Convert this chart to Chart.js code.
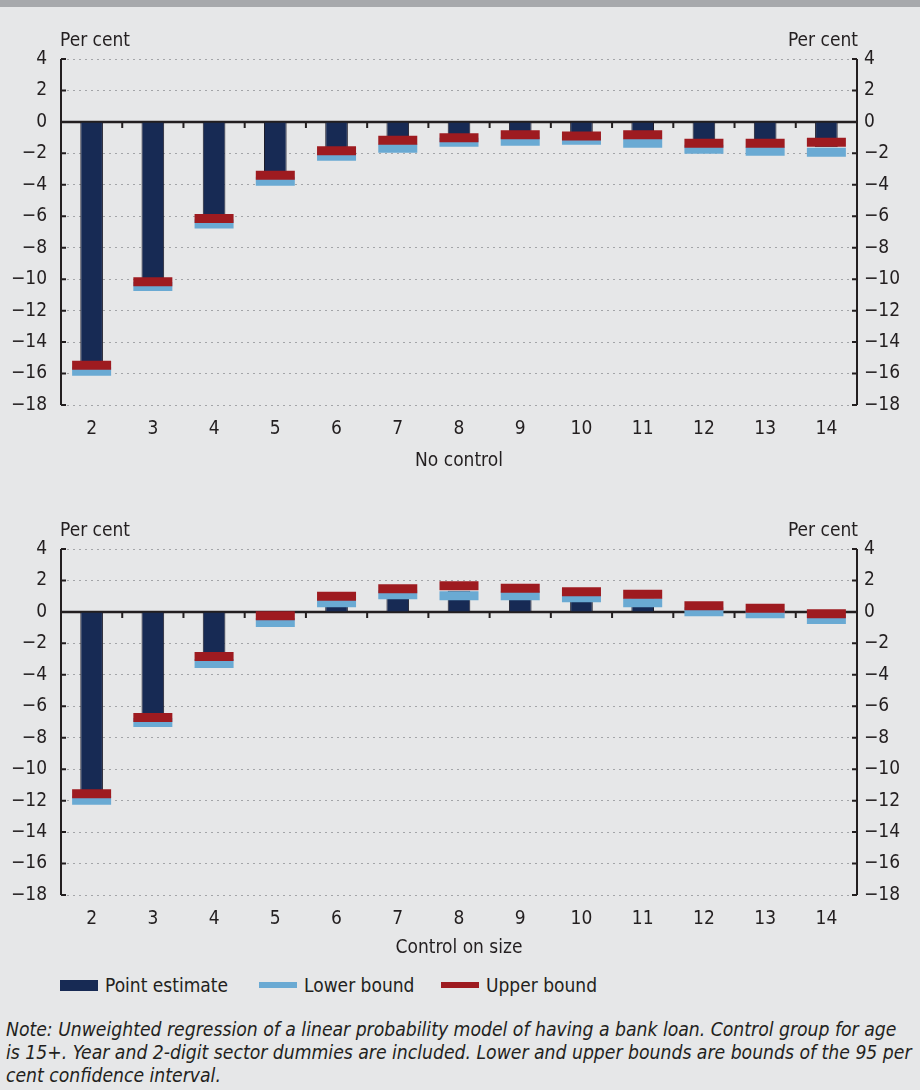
<!DOCTYPE html>
<html>
<head>
<meta charset="utf-8">
<script src="https://cdn.jsdelivr.net/npm/chart.js@4.4.1/dist/chart.umd.min.js"></script>
<style>
  body { margin: 0; background: #e6e7e8; width: 920px; height: 1090px; position: relative; overflow: hidden;
         font-family: 'Liberation Sans Narrow', 'DejaVu Sans Condensed', sans-serif; color: #231f20; }
  #band { position: absolute; left: 0; top: 0; width: 920px; height: 7px; background: #a7a9ac; }
  .wrap { position: absolute; left: 0; width: 920px; height: 480px; }
  #legend { position: absolute; top: 972px; left: 60px; font-size: 19px; height: 26px; line-height: 26px; }
  #legend span.item { position: absolute; white-space: nowrap; }
  #legend i { position: absolute; display: block; width: 38px; }
  #legend b { position: absolute; font-weight: normal; left: 45px; top: 0; }
  #note { position: absolute; left: 6px; top: 1018px; font-size: 19.2px; line-height: 23px; font-style: italic; white-space: nowrap; }
</style>
</head>
<body>
<div id="band"></div>
<div class="wrap" style="top:0px"><canvas id="chartTop" width="920" height="480"></canvas></div>
<div class="wrap" style="top:490px"><canvas id="chartBottom" width="920" height="480"></canvas></div>
<div id="legend">
  <span class="item" style="left:0"><i style="top:8px;height:11px;background:#172a54"></i><b>Point estimate</b></span>
  <span class="item" style="left:199px"><i style="top:10px;height:6px;background:#6aaad3"></i><b>Lower bound</b></span>
  <span class="item" style="left:381px"><i style="top:10px;height:6px;background:#9e1b20"></i><b>Upper bound</b></span>
</div>
<div id="note">Note: Unweighted regression of a linear probability model of having a bank loan. Control group for age<br>is 15+. Year and 2-digit sector dummies are included. Lower and upper bounds are bounds of the 95 per<br>cent confidence interval.</div>
<script>
// categorie (età)
const categorie = ["2", "3", "4", "5", "6", "7", "8", "9", "10", "11", "12", "13", "14"];

// senza controllo
const superioreNoControl = [-15.47, -10.16, -6.14, -3.39, -1.84, -1.17, -1.01, -0.82, -0.89, -0.82, -1.36, -1.36, -1.30];
const inferioreNoControl = [-15.85, -10.47, -6.49, -3.77, -2.18, -1.68, -1.30, -1.23, -1.17, -1.36, -1.74, -1.87, -1.93];
const stimaNoControl = [-15.66, -10.31, -6.31, -3.58, -2.01, -1.42, -1.15, -1.02, -1.03, -1.09, -1.55, -1.61, -1.61];

// controllo sulla dimensione
const superioreSize = [-11.56, -6.71, -2.84, -0.24, 1.00, 1.47, 1.66, 1.50, 1.28, 1.12, 0.39, 0.23, -0.11];
const inferioreSize = [-11.97, -7.03, -3.28, -0.68, 0.58, 1.09, 1.03, 1.03, 0.90, 0.58, 0.01, -0.11, -0.49];
const stimaSize = [-11.76, -6.87, -3.06, -0.46, 0.79, 1.28, 1.35, 1.27, 1.09, 0.85, 0.20, 0.06, -0.30];

const yMin = -18, yMax = 4, yStep = 2;

const scuro = "#231f20";
Chart.defaults.font.family = "'Liberation Sans Narrow', 'DejaVu Sans Condensed', sans-serif";
Chart.defaults.font.size = 19;
Chart.defaults.color = scuro;

function etichetta(v) {
    return v < 0 ? "\u2212" + Math.abs(v) : String(v);
}

// assi, tacche e "Per cent"
const decorazioni = {
    id: "decorazioni",
    beforeDatasetsDraw(chart) {
        const ctx = chart.ctx;
        const area = chart.chartArea;
        const x = chart.scales.x;
        const y = chart.scales.y;
        const y0 = y.getPixelForValue(0);
        ctx.save();
        ctx.strokeStyle = scuro;
        ctx.lineWidth = 2.5;
        ctx.beginPath();
        ctx.moveTo(area.left, y0);
        ctx.lineTo(area.right, y0);
        ctx.stroke();
        ctx.lineWidth = 2;
        ctx.beginPath();
        for (let i = 1; i < categorie.length; i++) {
            const xb = (x.getPixelForValue(i - 1) + x.getPixelForValue(i)) / 2;
            ctx.moveTo(xb, y0);
            ctx.lineTo(xb, y0 + 6);
        }
        ctx.stroke();
        ctx.restore();
    },
    afterDraw(chart) {
        const ctx = chart.ctx;
        const area = chart.chartArea;
        const y = chart.scales.y;
        ctx.save();
        ctx.strokeStyle = scuro;
        ctx.lineWidth = 2;
        ctx.beginPath();
        ctx.moveTo(area.left, area.top);
        ctx.lineTo(area.left, area.bottom);
        ctx.moveTo(area.right, area.top);
        ctx.lineTo(area.right, area.bottom);
        y.ticks.forEach(t => {
            const py = y.getPixelForValue(t.value);
            ctx.moveTo(area.left, py);
            ctx.lineTo(area.left + 5, py);
            ctx.moveTo(area.right, py);
            ctx.lineTo(area.right - 5, py);
        });
        ctx.stroke();
        ctx.fillStyle = scuro;
        ctx.font = "19px " + Chart.defaults.font.family;
        ctx.textBaseline = "middle";
        ctx.textAlign = "left";
        ctx.fillText("Per cent", area.left - 1, area.top - 18);
        ctx.textAlign = "right";
        ctx.fillText("Per cent", area.right + 1, area.top - 18);
        ctx.restore();
    }
};

function creaGrafico(id, stima, inferiore, superiore, titolo, padBasso, altezzaX) {
    const ctx = document.getElementById(id).getContext("2d");
    return new Chart(ctx, {
        data: {
            labels: categorie,
            datasets: [
                {
                    type: "bar",
                    label: "Point estimate",
                    data: stima,
                    backgroundColor: "#172a54",
                    borderColor: "#1d1d2b",
                    borderWidth: 1,
                    barPercentage: 0.37,
                    categoryPercentage: 1,
                    order: 3
                },
                {
                    type: "line",
                    label: "Lower bound",
                    data: inferiore,
                    showLine: false,
                    pointStyle: "line",
                    pointRadius: 19.5,
                    pointBorderWidth: 9,
                    borderColor: "#6aaad3",
                    backgroundColor: "#6aaad3",
                    order: 2
                },
                {
                    type: "line",
                    label: "Upper bound",
                    data: superiore,
                    showLine: false,
                    pointStyle: "line",
                    pointRadius: 19.5,
                    pointBorderWidth: 9,
                    borderColor: "#9e1b20",
                    backgroundColor: "#9e1b20",
                    order: 1
                }
            ]
        },
        options: {
            responsive: false,
            animation: false,
            layout: { padding: { top: 59, bottom: padBasso, left: 0, right: 0 } },
            plugins: {
                legend: { display: false },
                tooltip: { enabled: false }
            },
            scales: {
                x: {
                    offset: true,
                    grid: { display: false, drawTicks: false },
                    border: { display: false },
                    ticks: { padding: 13, font: { size: 19 } },
                    title: { display: true, text: titolo, font: { size: 19 }, padding: 0 },
                    afterFit: s => { s.height = altezzaX; }
                },
                y: {
                    position: "left",
                    min: yMin,
                    max: yMax,
                    ticks: { stepSize: yStep, padding: 14, callback: etichetta },
                    grid: {
                        drawTicks: false,
                        lineWidth: 1,
                        color: c => (c.tick && c.tick.value === 0) ? "rgba(0,0,0,0)" : "#a3a5a8"
                    },
                    border: { display: false, dash: [2, 4] },
                    afterFit: s => { s.width = 61; }
                },
                y2: {
                    position: "right",
                    min: yMin,
                    max: yMax,
                    ticks: { stepSize: yStep, padding: 7, callback: etichetta },
                    grid: { drawOnChartArea: false, drawTicks: false },
                    border: { display: false },
                    afterFit: s => { s.width = 63; }
                }
            }
        },
        plugins: [decorazioni]
    });
}

creaGrafico("chartTop", stimaNoControl, inferioreNoControl, superioreNoControl, "No control", 8, 67);
creaGrafico("chartBottom", stimaSize, inferioreSize, superioreSize, "Control on size", 11, 64);
</script>
</body>
</html>
